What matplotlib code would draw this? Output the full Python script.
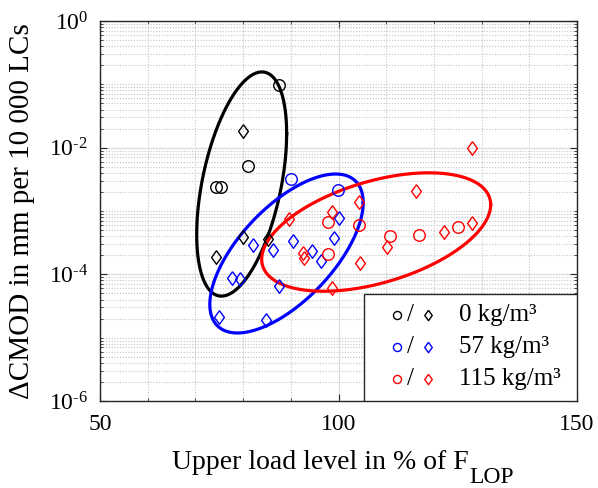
import numpy as np
import matplotlib
matplotlib.use('Agg')
import matplotlib.pyplot as plt
from matplotlib.ticker import FixedLocator, NullFormatter, FixedFormatter
from matplotlib.patches import Rectangle

plt.rcParams['font.family'] = ['Liberation Serif', 'DejaVu Serif']
plt.rcParams['mathtext.fontset'] = 'custom'
plt.rcParams['mathtext.rm'] = 'Liberation Serif'
plt.rcParams['mathtext.it'] = 'Liberation Serif:italic'
plt.rcParams['mathtext.bf'] = 'Liberation Serif:bold'

# ---------------- data ----------------
series_labels = ['0 kg/m³', '57 kg/m³', '115 kg/m³']
series_colors = ['black', 'blue', 'red']

c0_x = [87.5, 81.0, 74.3, 75.4]
c0_y = [0.098, 5.1e-3, 2.4e-3, 2.4e-3]
d0_x = [79.9, 79.9, 74.3, 85.3]
d0_y = [1.83e-2, 3.9e-4, 1.9e-4, 3.6e-4]

c57_x = [90.0, 99.8]
c57_y = [3.2e-3, 2.15e-3]
d57_x = [82.0, 86.2, 90.5, 94.5, 96.3, 77.6, 79.4, 87.6, 75.0, 84.9, 100.0, 99.1]
d57_y = [2.9e-4, 2.4e-4, 3.3e-4, 2.35e-4, 1.6e-4, 8.7e-5, 8.4e-5, 6.6e-5,
         2.1e-5, 1.9e-5, 7.7e-4, 3.7e-4]

c115_x = [97.9, 97.9, 104.3, 110.8, 116.9, 125.1]
c115_y = [6.8e-4, 2.1e-4, 6.0e-4, 4.0e-4, 4.2e-4, 5.6e-4]
d115_x = [127.9, 116.2, 104.3, 98.6, 89.7, 127.9, 122.1, 110.2, 92.5, 92.8, 104.5, 98.6]
d115_y = [9.8e-3, 2.07e-3, 1.4e-3, 9.5e-4, 7.5e-4, 6.5e-4, 4.6e-4, 2.7e-4,
          2.15e-4, 1.83e-4, 1.53e-4, 6.0e-5]

# ellipses (in x / log10(y) space): centre, half extents, correlation
ell_cx = [79.7, 89.1, 107.9]
ell_cy = [-2.574, -3.671, -3.332]
ell_wx = [9.43, 16.08, 24.0]
ell_wy = [1.77, 1.255, 0.935]
ell_r = [0.45, 0.64, 0.46]

x_ticks = [50, 100, 150]
y_ticks = [1e-6, 1e-4, 1e-2, 1e0]
y_ticklabels = [r'$\mathregular{10^{\text{-}6}}$', r'$\mathregular{10^{\text{-}4}}$',
                r'$\mathregular{10^{\text{-}2}}$', r'$\mathregular{10^{0}}$']

circles = [(c0_x, c0_y), (c57_x, c57_y), (c115_x, c115_y)]
diamonds = [(d0_x, d0_y), (d57_x, d57_y), (d115_x, d115_y)]

# ---------------- figure ----------------
W, H = 598, 488
fig = plt.figure(figsize=(W / 100, H / 100), dpi=100)
ax = fig.add_axes([100 / W, 1 - 401 / H, 477 / W, 380 / H])
ax.set_xscale('linear')
ax.set_yscale('log')
ax.set_xlim(50, 150)
ax.set_ylim(1e-6, 1e0)

diamond_marker = [(0, 1), (0.72, 0), (0, -1), (-0.72, 0), (0, 1)]

t = np.linspace(0, 2 * np.pi, 400)
for i, col in enumerate(series_colors):
    ex = ell_cx[i] + ell_wx[i] * np.cos(t)
    ey = ell_cy[i] + ell_wy[i] * (ell_r[i] * np.cos(t) + np.sqrt(1 - ell_r[i] ** 2) * np.sin(t))
    ax.plot(ex, 10 ** ey, color=col, lw=2.3, zorder=3)

for i, col in enumerate(series_colors):
    cx, cy = circles[i]
    dx, dy = diamonds[i]
    ax.plot(cx, cy, linestyle='none', marker='o', ms=8.3, mfc='none', mec=col, mew=1.0, zorder=4)
    ax.plot(dx, dy, linestyle='none', marker=diamond_marker, ms=9.8, mfc='none', mec=col, mew=1.0, zorder=4)

# ticks
ax.xaxis.set_major_locator(FixedLocator(x_ticks))
ax.xaxis.set_minor_locator(FixedLocator(list(range(50, 151, 10))))
ax.yaxis.set_major_locator(FixedLocator(y_ticks))
ax.yaxis.set_major_formatter(FixedFormatter(y_ticklabels))
minor_y = []
for e in range(-6, 0):
    for m in range(1, 10):
        v = m * 10.0 ** e
        if not (m == 1 and e % 2 == 0):
            minor_y.append(v)
ax.yaxis.set_minor_locator(FixedLocator(minor_y))
ax.yaxis.set_minor_formatter(NullFormatter())

ax.tick_params(which='both', direction='in', top=True, right=True, colors='#262626',
               labelcolor='black', labelsize=17)
ax.tick_params(which='major', length=5, width=0.8)
ax.tick_params(axis='y', which='major', pad=8.6)
ax.tick_params(axis='x', which='major', pad=9.5)
ax.tick_params(which='minor', length=2.5, width=0.6)

ax.grid(which='major', color='#dcdcdc', lw=0.9, linestyle='-', zorder=0)
ax.grid(which='minor', color='#c4c4c4', lw=0.8, linestyle=(0, (1, 1.5)), zorder=0)
ax.set_axisbelow(True)
for s in ax.spines.values():
    s.set_color('#262626')
    s.set_linewidth(1.0)

# axis labels
ax.set_ylabel('ΔCMOD in mm per 10 000 LCs', fontsize=21)
ax.yaxis.set_label_coords(-0.136, 0.5)

fig.canvas.draw()
r = fig.canvas.get_renderer()
main_txt = fig.text(0, 0, 'Upper load level in % of F', fontsize=20, ha='left', va='baseline')
sub_txt = fig.text(0, 0, 'LOP', fontsize=17, ha='left', va='baseline')
wm = main_txt.get_window_extent(r).width
ws = sub_txt.get_window_extent(r).width
total = wm + ws + 1
x0 = 343 - total / 2
main_txt.set_position((x0 / W, 1 - 469 / H))
sub_txt.set_position(((x0 + wm + 1) / W, 1 - 483 / H))

# legend (manual)
lx0, ly_top = 0.553, 0.282
ax.add_patch(Rectangle((lx0, 0.0), 1 - lx0, ly_top, transform=ax.transAxes,
                       facecolor='white', edgecolor='#262626', lw=1.0, zorder=10))
row_y = [0.226, 0.142, 0.058]
for i, col in enumerate(series_colors):
    ax.plot([0.623], [row_y[i]], transform=ax.transAxes, marker='o', ms=5.8,
            mfc='none', mec=col, mew=1.0, zorder=11, clip_on=False)
    ax.text(0.650, row_y[i], '/', transform=ax.transAxes, fontsize=18, ha='center',
            va='center', zorder=11)
    ax.plot([0.688], [row_y[i]], transform=ax.transAxes, marker=diamond_marker, ms=7.5,
            mfc='none', mec=col, mew=1.0, zorder=11, clip_on=False)
    ax.text(0.753, row_y[i], series_labels[i], transform=ax.transAxes, fontsize=18,
            ha='left', va='center', zorder=11)

fig.savefig('out.png', dpi=100)
